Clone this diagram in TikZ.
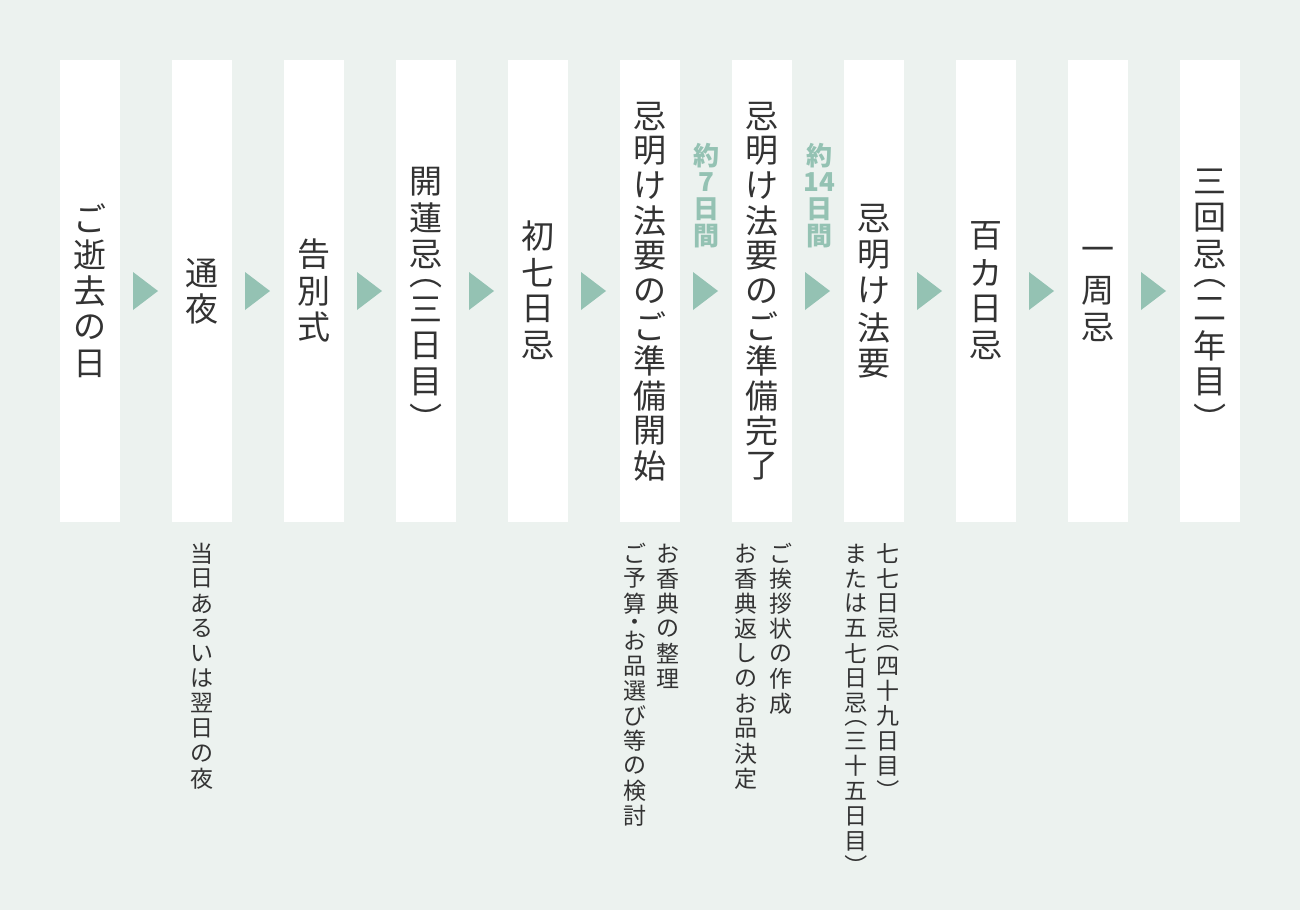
\documentclass[tikz,border=0pt]{standalone}
\usepackage{fontspec}
\newfontfamily\jp{Noto Sans CJK JP}
\usetikzlibrary{calc}
\definecolor{bg}{HTML}{ECF2EF}
\definecolor{accent}{HTML}{94C2B3}
\definecolor{ink}{HTML}{333333}
\def\markL{L}\def\markR{R}\def\markD{D}
% vertical text: #1 name, #2 x, #3 top y, #4 pitch, #5 style, #6 list of cells
\newcommand\tate[6]{%
  \xdef\tY{#3}%
  \foreach \c [count=\i] in {#6}{%
    \edef\cc{\c}%
    \def\nrot{0}\def\adv{1}%
    \pgfmathsetmacro\cy{\tY+#4/2}%
    \let\ntext\cc
    \ifx\cc\markL
      \def\ntext{（}\def\nrot{-90}\def\adv{0.5}\pgfmathsetmacro\cy{\tY}%
    \fi
    \ifx\cc\markR
      \def\ntext{）}\def\nrot{-90}\def\adv{0.5}\pgfmathsetmacro\cy{\tY+#4/2}%
    \fi
    \ifx\cc\markD
      \def\ntext{・}\def\adv{0.5}\pgfmathsetmacro\cy{\tY+#4*0.36}%
    \fi
    \node[#5,rotate=\nrot] (#1-\i) at (#2,\cy) {\ntext};
    \pgfmathparse{\tY+#4*\adv}\xdef\tY{\pgfmathresult}%
  }%
}
\tikzset{
  col/.style={fill=white,draw=none,inner sep=0pt,minimum width=60pt,minimum height=462pt},
  tri/.style={fill=accent},
  main/.style={font=\jp\fontsize{33}{40}\selectfont,text=ink,inner sep=0pt},
  sub/.style={font=\jp\fontsize{23}{28}\selectfont,text=ink,inner sep=0pt},
  dur/.style={font=\jp\bfseries\fontsize{26}{30}\selectfont,text=accent,inner sep=0pt},
}
\begin{document}
\begin{tikzpicture}[x=1pt,y=-1pt]
\useasboundingbox (0,0) rectangle (1300,910);
\fill[bg] (0,0) rectangle (1300,910);
\foreach \k in {1,...,11}{
  \node[col] (c\k) at ({90+112*(\k-1)},291) {};
}
\foreach \k [count=\n from 2] in {1,...,10}{
  \coordinate (m\k) at ($(c\k.east)!0.5!(c\n.west)$);
  \fill[tri] ($(m\k)+(-13,-19)$) -- ($(m\k)+(12,0)$) -- ($(m\k)+(-13,19)$) -- cycle;
}
\tate{t1}{90}{199.75}{36.5}{main}{ご,逝,去,の,日}
\tate{t2}{202}{254.5}{36.5}{main}{通,夜}
\tate{t3}{314}{236.25}{36.5}{main}{告,別,式}
\tate{t4}{426}{163.25}{36.5}{main}{開,蓮,忌,L,三,日,目,R}
\tate{t5}{538}{218}{36.5}{main}{初,七,日,忌}
\tate{t6}{650}{98.5}{35}{main}{忌,明,け,法,要,の,ご,準,備,開,始}
\tate{t7}{762}{98.5}{35}{main}{忌,明,け,法,要,の,ご,準,備,完,了}
\tate{t8}{874}{199.75}{36.5}{main}{忌,明,け,法,要}
\tate{t9}{986}{218}{36.5}{main}{百,カ,日,忌}
\tate{t10}{1098}{236.25}{36.5}{main}{一,周,忌}
\tate{t11}{1210}{163.25}{36.5}{main}{三,回,忌,L,二,年,目,R}
\tate{d1}{706}{142}{27}{dur}{約,7,日,間}
\tate{d2}{819}{142}{27}{dur}{約,14,日,間}
\tate{s2}{202}{541}{25}{sub}{当,日,あ,る,い,は,翌,日,の,夜}
\tate{s6a}{668}{541}{25}{sub}{お,香,典,の,整,理}
\tate{s6b}{635}{541}{25}{sub}{ご,予,算,D,お,品,選,び,等,の,検,討}
\tate{s7a}{781}{541}{25}{sub}{ご,挨,拶,状,の,作,成}
\tate{s7b}{746}{541}{25}{sub}{お,香,典,返,し,の,お,品,決,定}
\tate{s8a}{888}{541}{25}{sub}{七,七,日,忌,L,四,十,九,日,目,R}
\tate{s8b}{856}{541}{25}{sub}{ま,た,は,五,七,日,忌,L,三,十,五,日,目,R}
\end{tikzpicture}
\end{document}
